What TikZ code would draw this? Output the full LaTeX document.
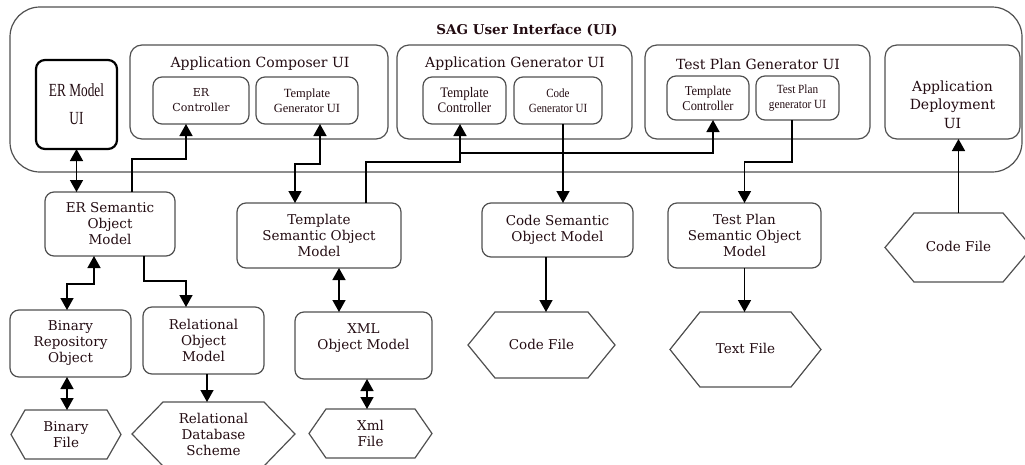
\documentclass[tikz,border=0pt]{standalone}
\usepackage{fontspec}
\usepackage{graphicx}
\setmainfont{DejaVu Serif}
\newfontfamily\tms{Liberation Serif}
\usetikzlibrary{arrows.meta,calc}
\definecolor{txt}{RGB}{35,12,18}
\definecolor{edge}{RGB}{80,80,80}
\tikzset{
  grp/.style={draw=edge,line width=1.2pt,rounded corners=12pt,inner sep=0pt,outer sep=0pt},
  rbox/.style={draw=edge,line width=1.2pt,rounded corners=9pt,inner sep=0pt,outer sep=0pt,align=center,text=txt,font=\fontsize{13.5}{16}\selectfont},
  hexbox/.style={inner sep=0pt,outer sep=0pt,align=center,text=txt,font=\fontsize{13.5}{16}\selectfont},
  hexline/.style={draw=edge,line width=1.2pt},
  lbl/.style={inner sep=0pt,align=center,text=txt},
  arr/.style={line width=1.5pt,-{Triangle[length=12pt,width=13pt]}},
  dbl/.style={line width=1.5pt,{Triangle[length=12pt,width=13pt]}-{Triangle[length=12pt,width=13pt]}},
}
\newcommand\hexa[7]{%
  \node[hexbox,minimum width=#4,minimum height=#5] (#1) at (#2,#3) {#7};
  \draw[hexline] (#1.west) -- ($(#1.north west)+(#6,0)$) -- ($(#1.north east)+(-#6,0)$) -- (#1.east)
     -- ($(#1.south east)+(-#6,0)$) -- ($(#1.south west)+(#6,0)$) -- cycle;}
\begin{document}
\begin{tikzpicture}[x=1pt,y=-1pt]
\useasboundingbox (0,0) rectangle (1025,464);
% outer
\node[grp,rounded corners=30pt,minimum width=1012,minimum height=165] (sag) at (516,89.5) {};
\node[lbl,font=\fontsize{13.5}{15}\selectfont\bfseries] (sagt) at (527,30) {SAG User Interface (UI)};
% ER Model UI
\node[draw=black,line width=2.2pt,rounded corners=9pt,minimum width=81,minimum height=89,inner sep=0pt,outer sep=0pt,
      align=center,text=txt,font=\tms\fontsize{18.5}{28}\selectfont] (ermui) at (76.5,104.5)
      {\scalebox{0.72}[1]{ER Model}\\\scalebox{0.72}[1]{UI}};
% Application Composer UI
\node[grp,minimum width=258,minimum height=94] (acg) at (259,92) {};
\node[lbl,font=\fontsize{14}{16}\selectfont] (acgt) at (260,64) {Application Composer UI};
\node[rbox,minimum width=96,minimum height=47,font=\fontsize{11}{15}\selectfont] (erc) at (201,100.5) {ER\\Controller};
\node[rbox,minimum width=102,minimum height=47,font=\tms\fontsize{12.5}{15}\selectfont] (tgu) at (307,100.5) {Template\\Generator UI};
% Application Generator UI
\node[grp,minimum width=235,minimum height=94] (agg) at (514.5,92) {};
\node[lbl,font=\fontsize{14}{16}\selectfont] (aggt) at (515,64) {Application Generator UI};
\node[rbox,minimum width=83,minimum height=47,font=\tms\fontsize{14.5}{15}\selectfont] (agtc) at (464.5,100.5)
   {\scalebox{0.9}[1]{Template}\\\scalebox{0.9}[1]{Controller}};
\node[rbox,minimum width=88,minimum height=47,font=\tms\fontsize{12.5}{15}\selectfont] (cgu) at (558,100.5)
   {\scalebox{0.88}[1]{Code}\\\scalebox{0.88}[1]{Generator UI}};
% Test Plan Generator UI
\node[grp,minimum width=225,minimum height=94] (tpg) at (757.5,92) {};
\node[lbl,font=\fontsize{14}{16}\selectfont] (tpgt) at (758,64) {Test Plan Generator UI};
\node[rbox,minimum width=82,minimum height=44,font=\tms\fontsize{13.5}{15}\selectfont] (tptc) at (708,98)
   {\scalebox{0.92}[1]{Template}\\\scalebox{0.92}[1]{Controller}};
\node[rbox,minimum width=83,minimum height=44,font=\tms\fontsize{12.5}{15}\selectfont] (tpgu) at (797.5,98)
   {\scalebox{0.9}[1]{Test Plan}\\\scalebox{0.9}[1]{generator UI}};
% Application Deployment UI
\node[grp,minimum width=135,minimum height=94] (adep) at (952.5,92) {};
\node[lbl,font=\fontsize{14}{18.5}\selectfont] (adept) at (952.5,104.5) {Application\\Deployment\\UI};
% lower boxes
\node[rbox,minimum width=130,minimum height=64] (ersom) at (110,224) {ER Semantic\\Object\\Model};
\node[rbox,minimum width=121,minimum height=67] (brobj) at (70.5,343.5) {Binary\\Repository\\Object};
\node[rbox,minimum width=121,minimum height=67] (relobj) at (203.5,340.5) {Relational\\Object\\Model};
\node[rbox,minimum width=164,minimum height=65] (tsom) at (319,235.5) {Template\\Semantic Object\\Model};
\node[rbox,minimum width=137,minimum height=67] (xmlobj) at (363.5,345.5) {};
\node[lbl,font=\fontsize{13.5}{16}\selectfont] (xmlobjt) at (363.5,338.5) {XML\\Object Model};
\node[rbox,minimum width=151,minimum height=54] (csom) at (557.5,230) {Code Semantic\\Object Model};
\node[rbox,minimum width=153,minimum height=65] (tpsom) at (744.5,235.5) {Test Plan\\Semantic Object\\Model};
% hexagons
\hexa{binf}{66}{434.5}{110}{49}{14}{Binary\\File}
\hexa{rdb}{213.5}{434}{163}{64}{31}{Relational\\Database\\Scheme}
\hexa{xmlf}{370.5}{433.5}{123}{49}{17}{Xml\\File}
\hexa{codef}{541.5}{345}{147}{66}{27}{\raisebox{2pt}{Code File}}
\hexa{textf}{745.5}{349.5}{151}{75}{30}{\raisebox{3pt}{Text File}}
\hexa{codef2}{958.5}{247.5}{147}{69}{29}{\raisebox{2pt}{Code File}}
% connectors
\draw[dbl] (ermui.south) -- (ermui.south |- ersom.north);
\coordinate (c1) at ($(ersom.north west)+(87,0)$);
\coordinate (c1e) at ($(erc.south west)+(33,0)$);
\draw[arr] (c1) -- ++(0,-33) -| (c1e);
\coordinate (c2) at ($(tgu.south west)+(64,0)$);
\coordinate (c2e) at ($(tsom.north west)+(58,0)$);
\draw[dbl] (c2) -- ++(0,40) -| (c2e);
\coordinate (c3) at ($(tsom.north west)+(129,0)$);
\coordinate (c3e) at ($(agtc.south west)+(37,0)$);
\draw[arr] (c3) -- ++(0,-41) -| (c3e);
\coordinate (br) at ($(agtc.south west)+(37,29)$);
\coordinate (c4e) at ($(tptc.south west)+(46,0)$);
\draw[arr] (br) -| (c4e);
\coordinate (c5) at ($(cgu.south west)+(49,0)$);
\draw[arr] (c5) -- (c5 |- csom.north);
\coordinate (c6) at ($(tpgu.south west)+(36,0)$);
\draw[arr] (c6) -- ++(0,42) -| (tpsom.north);
\coordinate (c7) at ($(csom.south west)+(64,0)$);
\draw[arr] (c7) -- (c7 |- codef.north);
\draw[arr] (tpsom.south) -- (tpsom.south |- textf.north);
\draw[arr] (codef2.north) -- (codef2.north |- adep.south);
\coordinate (c8) at ($(brobj.north west)+(57,0)$);
\coordinate (c8e) at ($(ersom.south west)+(49,0)$);
\draw[dbl] (c8) -- ++(0,-26) -| (c8e);
\coordinate (c9) at ($(ersom.south west)+(99,0)$);
\coordinate (c9e) at ($(relobj.north west)+(43,0)$);
\draw[arr] (c9) -- ++(0,25) -| (c9e);
\coordinate (c10) at ($(brobj.south west)+(57,0)$);
\draw[dbl] (c10) -- (c10 |- binf.north);
\coordinate (c11) at ($(relobj.south west)+(64,0)$);
\draw[arr] (c11) -- (c11 |- rdb.north);
\coordinate (c12) at ($(tsom.south west)+(102,0)$);
\draw[dbl] (c12) -- (c12 |- xmlobj.north);
\coordinate (c13) at ($(xmlobj.south west)+(72,0)$);
\draw[dbl] (c13) -- (c13 |- xmlf.north);
\end{tikzpicture}
\end{document}
